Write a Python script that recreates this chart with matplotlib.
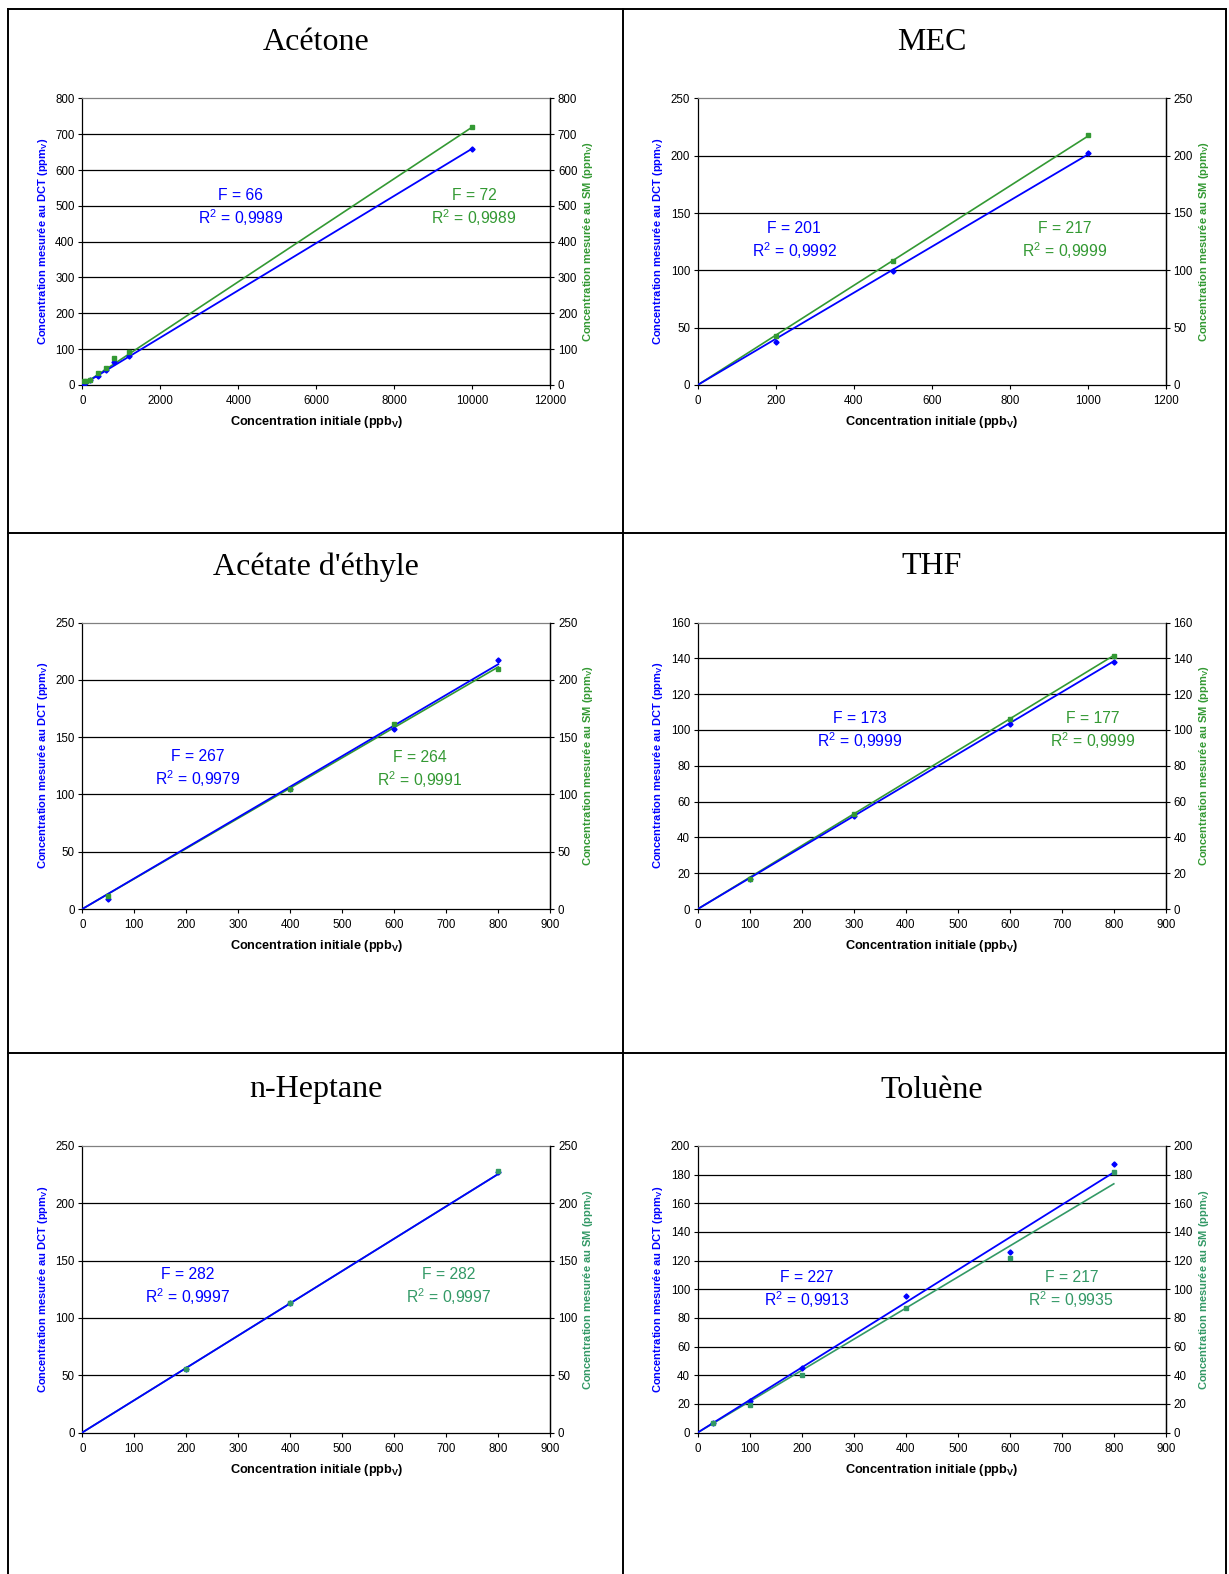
import numpy as np
import matplotlib
matplotlib.use('Agg')
import matplotlib.pyplot as plt
from matplotlib.lines import Line2D

plt.rcParams['font.family'] = 'Liberation Sans'
plt.rcParams['mathtext.fontset'] = 'custom'
plt.rcParams['mathtext.rm'] = 'Liberation Sans'
plt.rcParams['mathtext.it'] = 'Liberation Sans:italic'
plt.rcParams['mathtext.bf'] = 'Liberation Sans:bold'

BLUE = '#0000FF'

# --- data ---
titles = ["Acétone", "MEC", "Acétate d'éthyle", "THF", "n-Heptane", "Toluène"]

x_acetone = [50, 100, 200, 400, 600, 800, 1200, 10000]
dct_acetone = [3, 7, 13, 26, 41, 65, 82, 660]
sm_acetone = [11, 12, 14, 33, 48, 75, 92, 721]

x_mec = [200, 500, 1000]
dct_mec = [37.4, 99.4, 202.5]
sm_mec = [42.4, 108, 218]

x_acet = [50, 400, 600, 800]
dct_acet = [8.7, 105, 157, 217]
sm_acet = [11.3, 104.6, 161, 209.3]

x_thf = [100, 300, 600, 800]
dct_thf = [16.9, 51.9, 103.3, 137.8]
sm_thf = [17, 53.3, 106.1, 141.2]

x_hep = [200, 400, 800]
dct_hep = [55.5, 112.6, 227.5]
sm_hep = [55.5, 112.6, 228]

x_tol = [30, 100, 200, 400, 600, 800]
dct_tol = [6.3, 22, 45, 95.1, 126.3, 187.4]
sm_tol = [6.3, 19.5, 40, 86.7, 121.9, 181.6]

# response factors (slope, ppm per ppm) and R2 of the trend lines
F_dct = [66, 201, 267, 173, 282, 227]
F_sm = [72, 217, 264, 177, 282, 217]
R2_dct = ["0,9989", "0,9992", "0,9979", "0,9999", "0,9997", "0,9913"]
R2_sm = ["0,9989", "0,9999", "0,9991", "0,9999", "0,9997", "0,9935"]

xs = [x_acetone, x_mec, x_acet, x_thf, x_hep, x_tol]
dcts = [dct_acetone, dct_mec, dct_acet, dct_thf, dct_hep, dct_tol]
sms = [sm_acetone, sm_mec, sm_acet, sm_thf, sm_hep, sm_tol]

x_ticks = [np.arange(0, 12001, 2000), np.arange(0, 1201, 200)] + [np.arange(0, 901, 100)] * 4
y_ticks = [np.arange(0, 801, 100), np.arange(0, 251, 50), np.arange(0, 251, 50),
           np.arange(0, 161, 20), np.arange(0, 251, 50), np.arange(0, 201, 20)]
greens = ['#339933', '#339933', '#339933', '#339933', '#339966', '#339966']

# annotation block centres (axes fraction)
ann_dct = [(0.339, 0.618), (0.206, 0.502), (0.247, 0.488), (0.346, 0.621), (0.225, 0.508), (0.232, 0.497)]
ann_sm = [(0.837, 0.618), (0.785, 0.502), (0.721, 0.485), (0.843, 0.621), (0.782, 0.508), (0.798, 0.497)]

W, H = 1229, 1574
fig = plt.figure(figsize=(W / 100, H / 100), dpi=100)

col_left = [82.3, 697.8]
row_top = [98.4, 622.5, 1146]
ax_w, ax_h = 468, 286.5
title_x = [316, 932]
title_y = [43, 567, 1090]

for i in range(6):
	r, c = divmod(i, 2)
	left = col_left[c]
	top = row_top[r]
	ax = fig.add_axes([left / W, 1 - (top + ax_h) / H, ax_w / W, ax_h / H])
	g = greens[i]

	xmax = max(xs[i])
	xl = np.array([0, xmax])
	ax.plot(xl, xl * F_sm[i] / 1000, color=g, lw=1.2, zorder=3)
	ax.plot(xl, xl * F_dct[i] / 1000, color=BLUE, lw=1.3, zorder=4)
	ax.plot(xs[i], dcts[i], 'D', color=BLUE, ms=2.6, zorder=5)
	ax.plot(xs[i], sms[i], 's', color=g, ms=3.3, zorder=6)

	ax.set_xlim(x_ticks[i][0], x_ticks[i][-1])
	ax.set_ylim(y_ticks[i][0], y_ticks[i][-1])
	ax.set_xticks(x_ticks[i])
	ax.set_yticks(y_ticks[i])
	for yv in y_ticks[i][1:-1]:
		ax.axhline(yv, color='black', lw=0.9, zorder=1)
	ax.tick_params(labelsize=8.3, length=3, width=0.8, direction='out', pad=2.5, colors='black')
	ax.tick_params(axis='x', pad=4.5)
	for s in ['left', 'bottom', 'right']:
		ax.spines[s].set_linewidth(0.9)
		ax.spines[s].set_color('black')
	ax.spines['top'].set_color('#808080')
	ax.spines['top'].set_linewidth(0.9)

	ax2 = ax.twinx()
	ax2.set_ylim(ax.get_ylim())
	ax2.set_yticks(y_ticks[i])
	ax2.tick_params(labelsize=8.3, length=3, width=0.8, direction='out', pad=2.5)
	ax2.spines['right'].set_linewidth(0.9)
	ax2.spines['top'].set_visible(False)
	ax2.spines['left'].set_visible(False)
	ax2.spines['bottom'].set_visible(False)

	ax.text(-0.084, 0.5, r'Concentration mesurée au DCT (ppm$_\mathbf{V}$)', transform=ax.transAxes,
			rotation=90, ha='center', va='center', color=BLUE, fontsize=8, fontweight='bold')
	ax.text(1.081, 0.5, r'Concentration mesurée au SM (ppm$_\mathbf{V}$)', transform=ax.transAxes,
			rotation=90, ha='center', va='center', color=g, fontsize=8, fontweight='bold')
	ax.text(0.5, -0.13, r'Concentration initiale (ppb$_\mathbf{V}$)', transform=ax.transAxes,
			ha='center', va='center', fontsize=9.2, fontweight='bold')

	ax.text(ann_dct[i][0], ann_dct[i][1], 'F = %d\nR$^2$ = %s' % (F_dct[i], R2_dct[i]),
			transform=ax.transAxes, ha='center', va='center', color=BLUE, fontsize=11.3,
			linespacing=1.25, zorder=7)
	ax.text(ann_sm[i][0], ann_sm[i][1], 'F = %d\nR$^2$ = %s' % (F_sm[i], R2_sm[i]),
			transform=ax.transAxes, ha='center', va='center', color=g, fontsize=11.3,
			linespacing=1.25, zorder=7)

	fig.text(title_x[c] / W, 1 - title_y[r] / H, titles[i], ha='center', va='center',
			 fontsize=23, family='Liberation Serif')

# table borders
for xv in [8, 623, 1226]:
	fig.add_artist(Line2D([xv / W, xv / W], [1 - 9 / H, 0], color='black', lw=1.4))
for yv in [9, 533, 1053]:
	fig.add_artist(Line2D([8 / W, 1226 / W], [1 - yv / H, 1 - yv / H], color='black', lw=1.4))

fig.savefig('out.png', dpi=100)
